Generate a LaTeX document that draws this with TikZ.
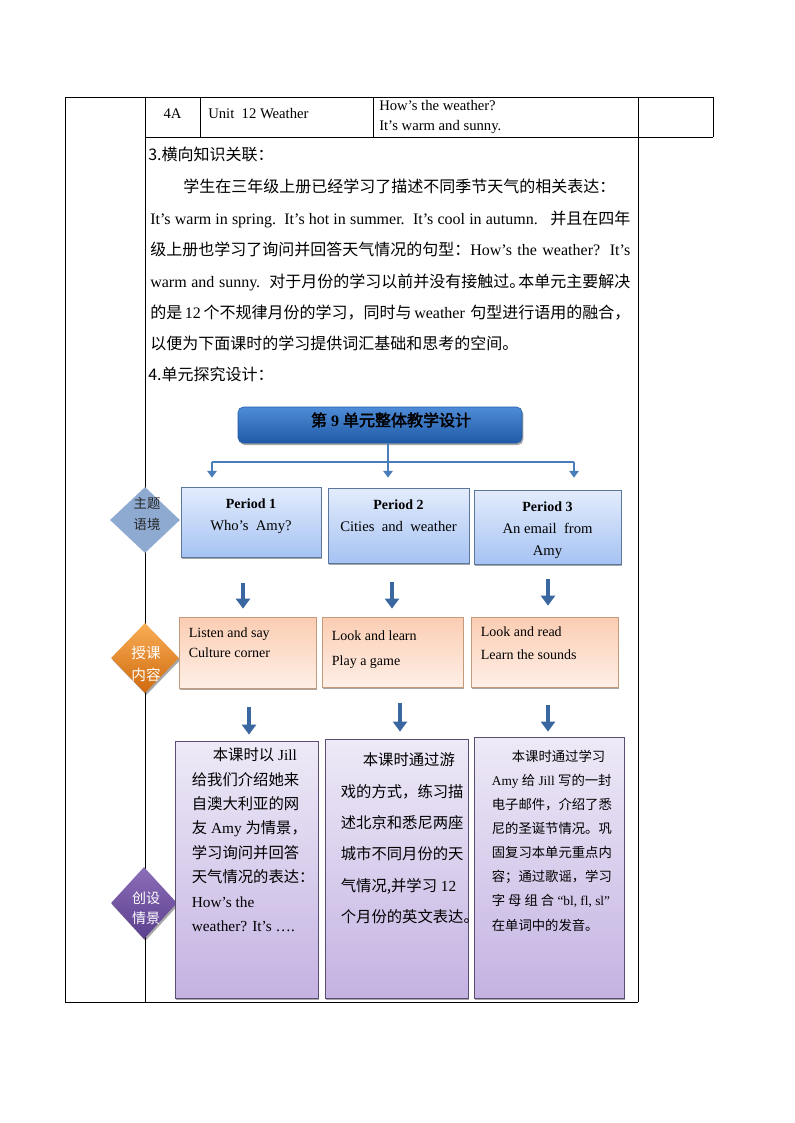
\documentclass[tikz,border=0pt]{standalone}
\usepackage{fontspec}
\setmainfont{Liberation Serif}
\newfontfamily\cjk[AutoFakeBold=2.5]{Noto Sans CJK SC}
\usepackage{tikz}
\usetikzlibrary{positioning,calc,shapes.geometric,shadows,arrows.meta}

\definecolor{titletop}{HTML}{4F8CD8}
\definecolor{titlebot}{HTML}{1F5AA6}
\definecolor{linkblue}{HTML}{4A7EBB}
\definecolor{arrowblue}{HTML}{3A67A0}
\definecolor{periodtop}{HTML}{E3ECFC}
\definecolor{periodbot}{HTML}{A6C3F3}
\definecolor{perioddraw}{HTML}{5C769C}
\definecolor{lessontop}{HTML}{FBCDB2}
\definecolor{lessonbot}{HTML}{FEEFE7}
\definecolor{lessondraw}{HTML}{C39A7A}
\definecolor{scenetop}{HTML}{EEEAF7}
\definecolor{scenebot}{HTML}{C4B2E2}
\definecolor{scenedraw}{HTML}{5B4C72}
\definecolor{tagblue}{HTML}{8EAAD0}
\definecolor{tagorangetop}{HTML}{F9AE55}
\definecolor{tagorangebot}{HTML}{D0690E}
\definecolor{tagpurpletop}{HTML}{8C6DB8}
\definecolor{tagpurplebot}{HTML}{5B3F8E}

\tikzset{
  boxshadow/.style={drop shadow={shadow xshift=1pt,shadow yshift=-1.5pt,fill=black,opacity=0.35}},
  titlebox/.style={rounded corners=4pt,top color=titletop,bottom color=titlebot,draw=titlebot,boxshadow,minimum width=213pt,minimum height=27pt,inner sep=0pt},
  periodbox/.style={top color=periodtop,bottom color=periodbot,draw=perioddraw,line width=0.6pt,boxshadow,inner sep=0pt},
  lessonbox/.style={top color=lessontop,bottom color=lessonbot,draw=lessondraw,line width=0.6pt,boxshadow,inner sep=0pt},
  scenebox/.style={top color=scenetop,bottom color=scenebot,draw=scenedraw,line width=0.6pt,boxshadow,inner sep=0pt},
  tagshape/.style={diamond,inner sep=0pt},
  tagtext/.style={align=center,inner sep=0pt},
  buslink/.style={draw=linkblue,line width=2.2pt},
  busarrow/.style={buslink,-{Triangle[length=5pt,width=7pt]}},
  blockarrow/.style={draw=arrowblue,line width=3.6pt,-{Triangle[length=7.5pt,width=10.5pt]}},
  tabline/.style={line width=0.7pt},
  celltext/.style={anchor=base west,inner sep=0pt,font=\fontsize{11}{13}\selectfont},
  paraline/.style={anchor=base west,inner sep=0pt,font=\fontsize{12}{14}\selectfont},
  ptext/.style={align=center,inner sep=0pt,font=\fontsize{11}{16.5}\selectfont},
  otext/.style={align=left,inner sep=0pt,font=\fontsize{10.5}{15}\selectfont},
  stext/.style={align=left,inner sep=0pt,font=\fontsize{11.5}{18.3}\selectfont},
}

\begin{document}
\begin{tikzpicture}[x=0.75pt,y=-0.75pt]
\fill[white] (0,0) rectangle (794,1123);
\useasboundingbox (0,0) rectangle (794,1123);

\draw[tabline] (65,97) -- (713,97);
\draw[tabline] (145,137) -- (713,137);
\draw[tabline] (65,1002) -- (638,1002);
\draw[tabline] (65,97) -- (65,1002);
\draw[tabline] (145,97) -- (145,1002);
\draw[tabline] (638,97) -- (638,1002);
\draw[tabline] (713,97) -- (713,137);
\draw[tabline] (200,97) -- (200,137);
\draw[tabline] (373,97) -- (373,137);

\node[celltext,anchor=base] (grade) at (172.5,119) {4A};
\node[celltext] (unit) at (208,119) {Unit\ \ 12 Weather};
\node[celltext] (ask) at (379,111) {How’s the weather?};
\node[celltext] (answer) at (379,131) {It’s warm and sunny.};

\node[paraline] (head3) at (148,161) {\cjk 3.横向知识关联：};
\node[paraline] (para1) at (183,193) {\cjk 学生在三年级上册已经学习了描述不同季节天气的相关表达：};
\node[paraline] (para2) at (150,224) {\makebox[360pt][s]{It’s warm in spring.\ \ It’s hot in summer.\ \ It’s cool in autumn.\ \ \ {\cjk 并且在四年}}};
\node[paraline] (para3) at (150,255) {\makebox[360pt][s]{{\cjk 级上册也学习了询问并回答天气情况的句型：}How’s the weather? It’s}};
\node[paraline] (para4) at (150,287) {\makebox[360pt][s]{warm and sunny.\ \ {\cjk 对于月份的学习以前并没有接触过。\kern-0.45em 本单元主要解决}}};
\node[paraline] (para5) at (150,318) {\makebox[360pt][s]{{\cjk 的是} 12 {\cjk 个不规律月份的学习，同时与} weather\ \ {\cjk 句型进行语用的融合，}}};
\node[paraline] (para6) at (150,349) {\cjk 以便为下面课时的学习提供词汇基础和思考的空间。};
\node[paraline] (head4) at (148,380) {\cjk 4.单元探究设计：};

\node[titlebox] (title) at (380,425) {};
\node[inner sep=0pt,font=\fontsize{12}{14}\selectfont\bfseries] (titletext) at (391,420) {{\cjk 第} 9 {\cjk 单元整体教学设计}};

\coordinate (busl) at (212,462);
\coordinate (busm) at (388,462);
\coordinate (busr) at (574,462);

\node[tagshape,fill=tagblue,minimum width=52.5pt,minimum height=49.5pt] (theme) at (145,520) {};
\node[tagshape,top color=tagorangetop,bottom color=tagorangebot,boxshadow,minimum width=51pt,minimum height=52.5pt] (content) at (145,658) {};
\node[tagshape,top color=tagpurpletop,bottom color=tagpurplebot,boxshadow,minimum width=49.5pt,minimum height=54pt] (scene) at (144,903) {};
\node[tagtext,font=\fontsize{10}{15.75}\selectfont\cjk,text=black!85] (themetext) at (147,513.5) {主题\\语境};
\node[tagtext,font=\fontsize{11}{16.5}\selectfont\cjk,text=white] (contenttext) at (146,664) {授课\\内容};
\node[tagtext,font=\fontsize{10.5}{15}\selectfont\cjk,text=white] (scenetext) at (146,908) {创设\\情景};

\node[periodbox,minimum width=105pt,minimum height=52.5pt] (p1) at (251,522) {};
\node[periodbox,minimum width=105.75pt,minimum height=56.25pt] (p2) at (398.5,525.5) {};
\node[periodbox,minimum width=110.25pt,minimum height=55.5pt] (p3) at (547.5,527) {};
\node[ptext,below=8.6pt of p1.north] (p1text) {{\fontsize{10.5}{16.5}\selectfont\bfseries Period 1}\\Who’s\ \ Amy?};
\node[ptext,below=8.6pt of p2.north] (p2text) {{\fontsize{10.5}{16.5}\selectfont\bfseries Period 2}\\Cities\ \ and\ \ weather};
\node[ptext,below=8.6pt of p3.north] (p3text) {{\fontsize{10.5}{16.5}\selectfont\bfseries Period 3}\\An\ email\ \ from\\Amy};

\node[lessonbox,minimum width=102.75pt,minimum height=53.25pt] (o1) at (247.5,652.5) {};
\node[lessonbox,minimum width=105.75pt,minimum height=52.5pt] (o2) at (392.5,652) {};
\node[lessonbox,minimum width=110.25pt,minimum height=52.5pt] (o3) at (544.5,652) {};
\node[otext,below right=8.25pt and 7.5pt of o1.north west] (o1text) {Listen and say\\Culture corner};
\node[otext,font=\fontsize{10.5}{18.75}\selectfont,below right=10.5pt and 7.5pt of o2.north west] (o2text) {Look and learn\\Play a game};
\node[otext,font=\fontsize{10.5}{17.25}\selectfont,below right=7.5pt and 7.5pt of o3.north west] (o3text) {Look and read\\Learn the sounds};

\node[scenebox,minimum width=107.25pt,minimum height=192.75pt] (b1) at (246.5,869.5) {};
\node[scenebox,minimum width=107.25pt,minimum height=194.25pt] (b2) at (396.5,868.5) {};
\node[scenebox,minimum width=112.5pt,minimum height=195.75pt] (b3) at (549,867.5) {};
\node[stext,below right=5.25pt and 12.75pt of b1.north west] (b1text) {\hspace*{15.75pt}{\cjk 本课时以} Jill\\
{\cjk 给我们介绍她来}\\
{\cjk 自澳大利亚的网}\\
{\cjk 友} Amy {\cjk 为情景，}\\
{\cjk 学习询问并回答}\\
{\cjk 天气情况的表达：}\\
How’s the\\
weather? It’s ….};
\node[stext,font=\fontsize{11.5}{23.55}\selectfont,below right=10.5pt and 12pt of b2.north west] (b2text) {\hspace*{16.5pt}{\cjk 本课时通过游}\\
{\cjk 戏的方式，练习描}\\
{\cjk 述北京和悉尼两座}\\
{\cjk 城市不同月份的天}\\
{\cjk 气情况,并学习} 12\\
{\cjk 个月份的英文表达。}};
\node[stext,font=\fontsize{10}{18.1}\selectfont,below right=9.75pt and 13.5pt of b3.north west] (b3text) {\hspace*{15pt}{\cjk 本课时通过学习}\\
Amy {\cjk 给} Jill {\cjk 写的一封}\\
{\cjk 电子邮件，介绍了悉}\\
{\cjk 尼的圣诞节情况。巩}\\
{\cjk 固复习本单元重点内}\\
{\cjk 容；通过歌谣，学习}\\
{\cjk 字 母 组 合} “bl, fl, sl”\\
{\cjk 在单词中的发音。}};

\draw[buslink] (title.south -| busm) -- (busm);
\draw[buslink] (busl) -- (busr);
\draw[busarrow] (busl) -- ($(busl |- p1.north)+(0,-9)$);
\draw[busarrow] (busm) -- ($(busm |- p2.north)+(0,-10)$);
\draw[busarrow] (busr) -- ($(busr |- p3.north)+(0,-12)$);

\draw[blockarrow] ($(p1.south)+(-8,26)$) -- ($(o1.north)+(-4.5,-8)$);
\draw[blockarrow] ($(p2.south)+(-6.5,19)$) -- ($(o2.north)+(-0.5,-8)$);
\draw[blockarrow] ($(p3.south)+(0.5,15)$) -- ($(o3.north)+(3.5,-11)$);
\draw[blockarrow] ($(o1.south)+(1.5,19)$) -- ($(b1.north)+(2.5,-6)$);
\draw[blockarrow] ($(o2.south)+(7.5,16)$) -- ($(b2.north)+(3.5,-7)$);
\draw[blockarrow] ($(o3.south)+(3.5,18)$) -- ($(b3.north)+(-1,-5)$);
\end{tikzpicture}
\end{document}
